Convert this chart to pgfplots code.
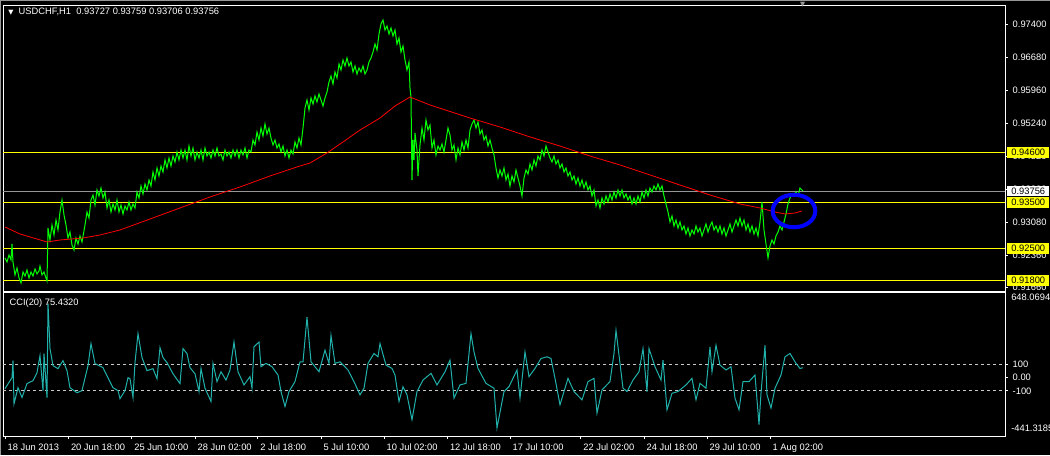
\documentclass[border=0pt]{standalone}
\usepackage{pgfplots}
\pgfplotsset{compat=1.18}
\usepackage{pgfplotstable}
\usepackage{fontspec}
\setmainfont{Liberation Sans}
\newfontfamily\symfont{DejaVu Sans}

\definecolor{mtgreen}{RGB}{0,255,0}
\definecolor{mtred}{RGB}{255,0,0}
\definecolor{mtyellow}{RGB}{255,255,0}
\definecolor{mtgray}{RGB}{150,150,150}
\definecolor{mtcci}{RGB}{32,178,170}
\definecolor{mtblue}{RGB}{0,0,255}
\definecolor{mtdash}{RGB}{200,200,200}

% USDCHF H1 close (x = bar offset)
\pgfplotstableread{
x p
0 0.92295
2 0.92208
4 0.92360
6 0.92252
7 0.92600
8 0.92208
10 0.91924
12 0.92077
14 0.91859
16 0.91749
18 0.91990
20 0.91902
22 0.92033
24 0.91859
26 0.91990
28 0.91902
30 0.92055
32 0.91946
34 0.92011
35 0.92121
37 0.91924
39 0.91990
41 0.91859
42 0.91793
43 0.92949
45 0.92687
47 0.93015
49 0.92796
51 0.93124
53 0.92906
55 0.93298
57 0.93560
59 0.93233
61 0.93015
63 0.92731
65 0.92862
67 0.92578
69 0.92469
71 0.92731
73 0.92600
75 0.92775
77 0.92644
80 0.93015
82 0.93298
84 0.93167
86 0.93560
88 0.93669
90 0.93451
92 0.93778
94 0.93647
96 0.93822
98 0.93604
100 0.93734
102 0.93386
104 0.93560
106 0.93298
108 0.93473
110 0.93342
112 0.93560
114 0.93298
116 0.93451
118 0.93255
120 0.93429
122 0.93342
124 0.93516
126 0.93342
128 0.93473
130 0.93386
132 0.93734
134 0.93604
136 0.93865
138 0.93691
140 0.93909
142 0.93778
144 0.93996
146 0.93865
148 0.94171
150 0.93996
152 0.94258
154 0.94084
156 0.94302
158 0.94171
160 0.94433
162 0.94258
164 0.94477
166 0.94302
168 0.94520
170 0.94389
172 0.94608
174 0.94433
176 0.94651
178 0.94477
180 0.94651
182 0.94433
184 0.94738
186 0.94520
188 0.94695
190 0.94433
192 0.94608
194 0.94477
196 0.94651
198 0.94433
200 0.94695
202 0.94520
204 0.94608
206 0.94477
208 0.94651
210 0.94520
212 0.94695
214 0.94520
216 0.94564
218 0.94433
220 0.94651
222 0.94520
224 0.94608
226 0.94477
228 0.94651
230 0.94520
232 0.94651
234 0.94477
236 0.94651
238 0.94542
240 0.94695
242 0.94477
244 0.94651
246 0.94608
248 0.94869
250 0.94760
252 0.95044
254 0.94869
256 0.95131
258 0.94957
260 0.95218
262 0.95000
264 0.95131
266 0.94913
268 0.94760
270 0.94869
272 0.94695
274 0.94782
276 0.94608
278 0.94738
280 0.94520
282 0.94651
284 0.94477
286 0.94651
288 0.94564
290 0.94826
292 0.94695
294 0.94913
296 0.94760
298 0.95131
300 0.95567
302 0.95742
304 0.95524
306 0.95786
308 0.95655
310 0.95829
312 0.95698
314 0.95873
316 0.95742
318 0.95611
320 0.95786
322 0.95917
324 0.96135
326 0.96266
328 0.96091
330 0.96353
332 0.96222
334 0.96527
336 0.96396
338 0.96615
340 0.96484
342 0.96658
344 0.96484
346 0.96571
348 0.96353
350 0.96484
352 0.96309
354 0.96440
356 0.96353
358 0.96484
360 0.96309
362 0.96396
364 0.96571
366 0.96658
368 0.96789
370 0.96964
372 0.96833
374 0.97182
376 0.97400
378 0.97488
380 0.97269
382 0.97357
384 0.97182
386 0.97313
388 0.97138
390 0.97269
392 0.96964
394 0.97095
396 0.96789
398 0.96920
400 0.96615
402 0.96396
404 0.96571
405 0.96004
406 0.95807
407 0.93996
408 0.94869
409 0.94433
410 0.95022
412 0.94651
413 0.94084
414 0.94433
415 0.94760
417 0.95131
419 0.94869
421 0.95306
423 0.95087
425 0.95196
427 0.94695
429 0.94869
431 0.94542
433 0.94738
435 0.94651
437 0.94782
439 0.94608
441 0.94869
443 0.95131
445 0.94979
447 0.94651
449 0.94760
451 0.94433
453 0.94695
455 0.94542
457 0.94826
459 0.94651
461 0.94869
463 0.94695
465 0.95087
467 0.95218
469 0.95306
471 0.95131
473 0.95262
475 0.95000
477 0.95087
479 0.94869
481 0.94957
483 0.94738
485 0.94869
487 0.94695
489 0.94542
491 0.94258
493 0.94040
495 0.94215
497 0.94084
499 0.94258
501 0.93996
503 0.94127
505 0.93865
507 0.94084
509 0.93953
511 0.94215
513 0.94040
515 0.93865
517 0.93647
519 0.94040
521 0.94215
523 0.94127
525 0.94346
527 0.94215
529 0.94433
531 0.94302
533 0.94520
535 0.94433
537 0.94651
539 0.94520
541 0.94738
543 0.94608
545 0.94477
547 0.94389
549 0.94520
551 0.94346
553 0.94433
555 0.94258
557 0.94346
559 0.94171
561 0.94258
563 0.94084
565 0.94171
567 0.93996
569 0.94084
571 0.93909
573 0.94040
575 0.93865
577 0.93996
579 0.93822
581 0.93953
583 0.93778
585 0.93865
587 0.93647
589 0.93778
591 0.93429
593 0.93560
595 0.93386
597 0.93604
599 0.93473
601 0.93647
603 0.93516
605 0.93691
607 0.93560
609 0.93734
611 0.93604
613 0.93778
615 0.93647
617 0.93778
619 0.93604
621 0.93691
623 0.93560
625 0.93647
627 0.93473
629 0.93604
631 0.93473
633 0.93647
635 0.93516
637 0.93734
639 0.93604
641 0.93778
643 0.93647
645 0.93822
647 0.93734
649 0.93865
651 0.93778
653 0.93909
655 0.93778
657 0.93865
659 0.93647
661 0.93473
663 0.93298
665 0.93080
667 0.93211
669 0.92993
671 0.93124
673 0.92949
675 0.93080
677 0.92906
679 0.92993
681 0.92818
683 0.92949
685 0.92775
687 0.92906
689 0.92818
691 0.92993
693 0.92862
695 0.92949
697 0.92775
699 0.92906
701 0.93037
703 0.92862
705 0.92993
707 0.93080
709 0.92906
711 0.92993
713 0.92862
715 0.92993
717 0.92818
719 0.92949
721 0.92775
723 0.92906
725 0.93037
727 0.92862
729 0.92993
731 0.93124
733 0.92993
735 0.93167
737 0.92993
739 0.93124
741 0.92906
743 0.93037
745 0.92862
747 0.92993
749 0.92818
751 0.92949
753 0.92775
755 0.93080
757 0.93516
759 0.92906
761 0.92600
763 0.92295
765 0.92557
767 0.92687
769 0.92600
771 0.92775
773 0.92862
775 0.92993
777 0.92906
779 0.93080
781 0.93255
783 0.93473
785 0.93604
787 0.93691
789 0.93647
791 0.93734
793 0.93647
795 0.93822
797 0.93778
798 0.93756
}\closes

% moving average (red)
\pgfplotstableread{
x p
0 0.92971
15 0.92818
42 0.92644
55 0.92687
78 0.92731
95 0.92796
115 0.92906
145 0.93145
175 0.93386
205 0.93626
235 0.93844
265 0.94084
295 0.94302
305 0.94367
322 0.94586
338 0.94826
355 0.95087
375 0.95349
390 0.95611
405 0.95807
425 0.95633
465 0.95349
495 0.95153
525 0.94935
555 0.94738
585 0.94520
615 0.94324
645 0.94106
675 0.93887
705 0.93669
735 0.93473
755 0.93386
770 0.93298
780 0.93255
790 0.93276
797 0.93320
}\ma

% CCI(20)
\pgfplotstableread{
x v
0 -83
7 0
8 129
9 -197
13 -76
17 -150
22 -45
28 -23
32 38
35 167
38 -98
39 182
42 -150
43 560
45 220
48 91
53 68
58 129
62 53
65 -76
72 -114
77 -98
83 91
86 258
90 106
98 76
103 0
108 -76
113 -98
115 -159
120 -98
123 0
125 -8
128 -150
130 114
133 333
137 152
142 53
148 68
152 -8
155 227
158 152
162 114
168 30
175 -45
178 220
182 182
185 76
190 30
194 -105
196 70
200 -80
206 -180
208 108
212 -30
216 45
221 -18
225 58
229 270
233 45
239 -55
245 8
247 -80
249 233
254 270
256 83
261 108
267 83
273 20
276 -105
280 -218
284 -105
290 -30
295 120
298 120
302 458
306 120
314 45
320 208
324 108
326 320
330 108
335 120
343 58
349 -30
355 -130
359 -80
363 108
369 183
373 158
375 258
381 95
387 70
390 20
394 -180
398 -68
402 -130
407 -318
412 -105
418 -18
426 33
432 -55
440 45
445 133
449 -155
455 -55
461 -43
466 333
469 195
473 70
481 -43
489 -80
492 -380
499 -105
504 -68
512 58
515 -155
520 195
524 8
530 70
536 145
542 158
546 145
550 -5
555 -205
563 -5
569 -105
577 -168
583 -30
589 -5
592 -268
597 -93
605 -30
609 183
611 358
615 108
618 -80
622 -105
628 -18
634 45
638 220
642 -105
644 220
650 83
656 -18
658 133
662 -243
667 -118
673 -105
681 -55
687 -5
691 -168
695 -43
701 -80
705 233
707 45
711 245
715 95
721 58
726 83
730 -155
734 -243
738 -30
744 -30
750 20
754 -355
756 -118
760 245
762 -130
766 -230
770 -80
776 20
780 158
785 183
791 108
795 70
798 75
}\cci

\pgfplotsset{mt/.style={
  scale only axis, width=751.5pt,
  xmin=-2, xmax=1000,
  axis line style={white, line width=0.75pt},
  tick style={white, line width=0.6pt},
  major tick length=2.25pt,
  tick align=outside,
  ytick pos=right, yticklabel pos=right,
  tick label style={text=white, font=\fontsize{7}{8}\selectfont},
  /pgf/number format/assume math mode=true,
  clip mode=individual,
}}

\begin{document}
\begin{tikzpicture}[font=\fontsize{7}{8}\selectfont]
\path[use as bounding box, clip] (0,0) rectangle (787.5pt,-341.25pt);
\fill[black] (0,0) rectangle (787.5pt,-341.25pt);
\draw[mtgray, line width=1pt] (0,0) -- (787.5pt,0) (0,0) -- (0,-341.25pt);

% price panel
\begin{axis}[mt, at={(2.25pt,-3.75pt)}, anchor=north west, height=214.5pt,
  ymin=0.91574, ymax=0.97815, xtick=\empty, scaled y ticks=false,
  ytick={0.974,0.9668,0.9596,0.9524,0.9452,0.938,0.9308,0.9236,0.9166},
  yticklabel style={/pgf/number format/.cd, fixed, fixed zerofill, precision=5}]
  \addplot[mtyellow, line width=0.75pt] coordinates {(-2,0.946) (1000,0.946)};
  \addplot[mtyellow, line width=0.75pt] coordinates {(-2,0.935) (1000,0.935)};
  \addplot[mtyellow, line width=0.75pt] coordinates {(-2,0.925) (1000,0.925)};
  \addplot[mtyellow, line width=0.75pt] coordinates {(-2,0.918) (1000,0.918)};
  \addplot[mtgray, line width=0.75pt] coordinates {(-2,0.93756) (1000,0.93756)};
  \addplot[mtgreen, line width=0.75pt] table[x=x, y=p] {\closes};
  \addplot[mtred, line width=0.6pt] table[x=x, y=p] {\ma};
  \draw[mtblue, line width=3pt] (axis cs:789,0.93320) ellipse [x radius=16pt, y radius=12.2pt];
  \coordinate (l946) at (axis cs:1000,0.946);
  \coordinate (l935) at (axis cs:1000,0.935);
  \coordinate (l925) at (axis cs:1000,0.925);
  \coordinate (l918) at (axis cs:1000,0.918);
  \coordinate (lcur) at (axis cs:1000,0.93756);
\end{axis}

% CCI panel
\begin{axis}[mt, at={(2.25pt,-219pt)}, anchor=north west, height=108pt,
  ymin=-441.3185, ymax=648.0694,
  ytick={-100,0,100}, yticklabels={-100,0.00,100},
  xtick pos=bottom,
  xtick={0,63.3,126.7,190,252.7,316,379,442.3,505,575.7,639,702,765},
  xticklabels={18 Jun 2013,20 Jun 18:00,25 Jun 10:00,28 Jun 02:00,2 Jul 18:00,5 Jul 10:00,10 Jul 02:00,12 Jul 18:00,17 Jul 10:00,22 Jul 02:00,24 Jul 18:00,29 Jul 10:00,1 Aug 02:00},
  xticklabel style={anchor=north west, xshift=-1.5pt}]
  \addplot[mtdash, line width=0.6pt, dash pattern=on 2.25pt off 2.25pt] coordinates {(-2,100) (1000,100)};
  \addplot[mtdash, line width=0.6pt, dash pattern=on 2.25pt off 2.25pt] coordinates {(-2,-100) (1000,-100)};
  \addplot[mtcci, line width=0.75pt] table[x=x, y=v] {\cci};
  \coordinate (ctop) at (axis cs:1000,648.0694);
  \coordinate (cbot) at (axis cs:1000,-441.3185);
\end{axis}

% level labels on the price scale
\foreach \c/\t in {l946/0.94600, l935/0.93500, l925/0.92500, l918/0.91800}
  \node[fill=mtyellow, text=black, anchor=west, inner sep=0pt, minimum height=7.9pt, minimum width=31.5pt] at ([xshift=1.5pt]\c) {\t};
\node[fill=white, text=black, anchor=west, inner sep=0pt, minimum height=7.9pt, minimum width=31.5pt] at ([xshift=1.5pt]lcur) {0.93756};
\node[text=white, anchor=north west, inner sep=0pt] at ([xshift=4.5pt, yshift=-1.5pt]ctop) {648.0694};
\node[text=white, anchor=south west, inner sep=0pt] at ([xshift=4.5pt, yshift=3pt]cbot) {-441.3185};

% captions
\node[text=white, anchor=west, inner sep=0pt] at (6pt,-9pt) {{\symfont\fontsize{5}{6}\selectfont ▼}\hspace{4pt}USDCHF,H1\hspace{4pt}0.93727 0.93759 0.93706 0.93756};
\node[text=white, anchor=west, inner sep=0pt] at (7pt,-227pt) {CCI(20) 75.4320};
\node[text=mtgray, inner sep=0pt] at (602pt,-3.5pt) {\symfont\fontsize{5}{6}\selectfont ▼};
\end{tikzpicture}
\end{document}
